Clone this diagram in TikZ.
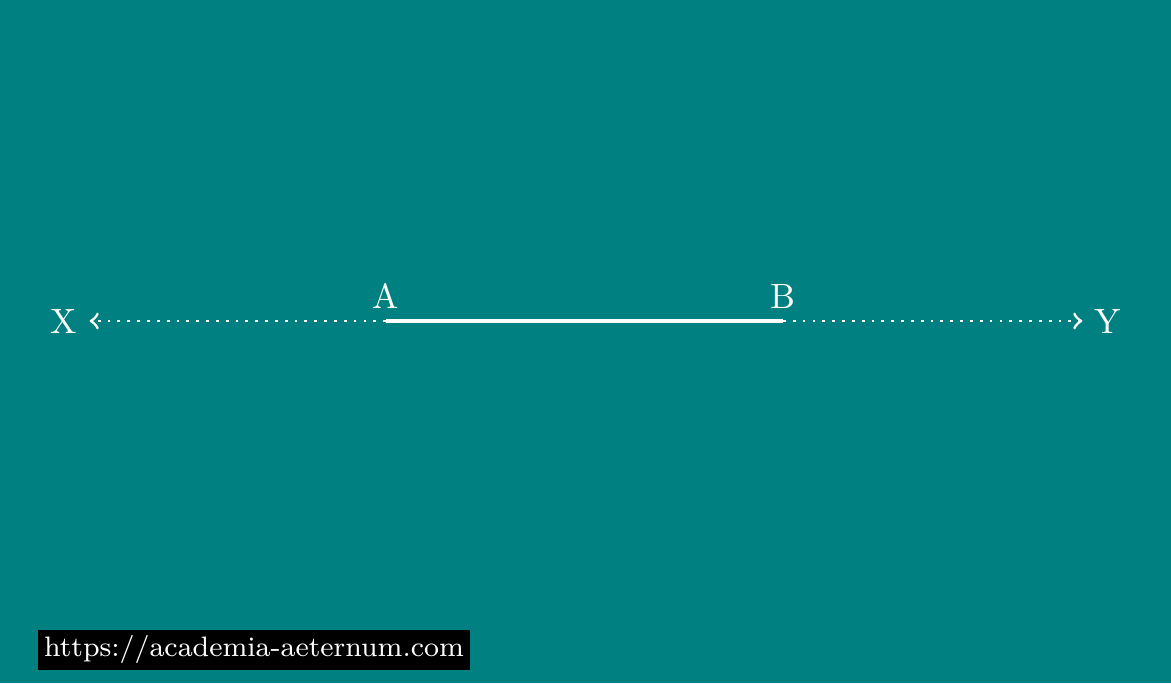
\documentclass[tikz,border=0pt]{standalone}
\usepackage{xcolor}
\definecolor{bgteal}{RGB}{0,128,128}
\begin{document}
\begin{tikzpicture}[
  lbl/.style={text=white, inner sep=3.33pt},
  dotline/.style={white, thick, dotted, ->},
  solidline/.style={white, line width=1pt},
  urlbox/.style={fill=black, text=white, inner sep=1.8pt, font=\footnotesize, anchor=south west}
]
\fill[bgteal] (0,0) rectangle (11.71,6.83);
\useasboundingbox (0,0) rectangle (11.71,6.83);
\coordinate (A) at (3.86,3.62);
\coordinate (B) at (7.83,3.62);
\node[lbl] (X) at (0.64,3.62) {X};
\node[lbl] (Y) at (11.08,3.62) {Y};
\node[lbl, above] (Alab) at (A) {A};
\node[lbl, above] (Blab) at (B) {B};
\draw[solidline] (A) -- (B);
\draw[dotline] (A) -- (X);
\draw[dotline] (B) -- (Y);
\node[urlbox] (url) at (0.37,0.12) {https://academia-aeternum.com};
\end{tikzpicture}
\end{document}
